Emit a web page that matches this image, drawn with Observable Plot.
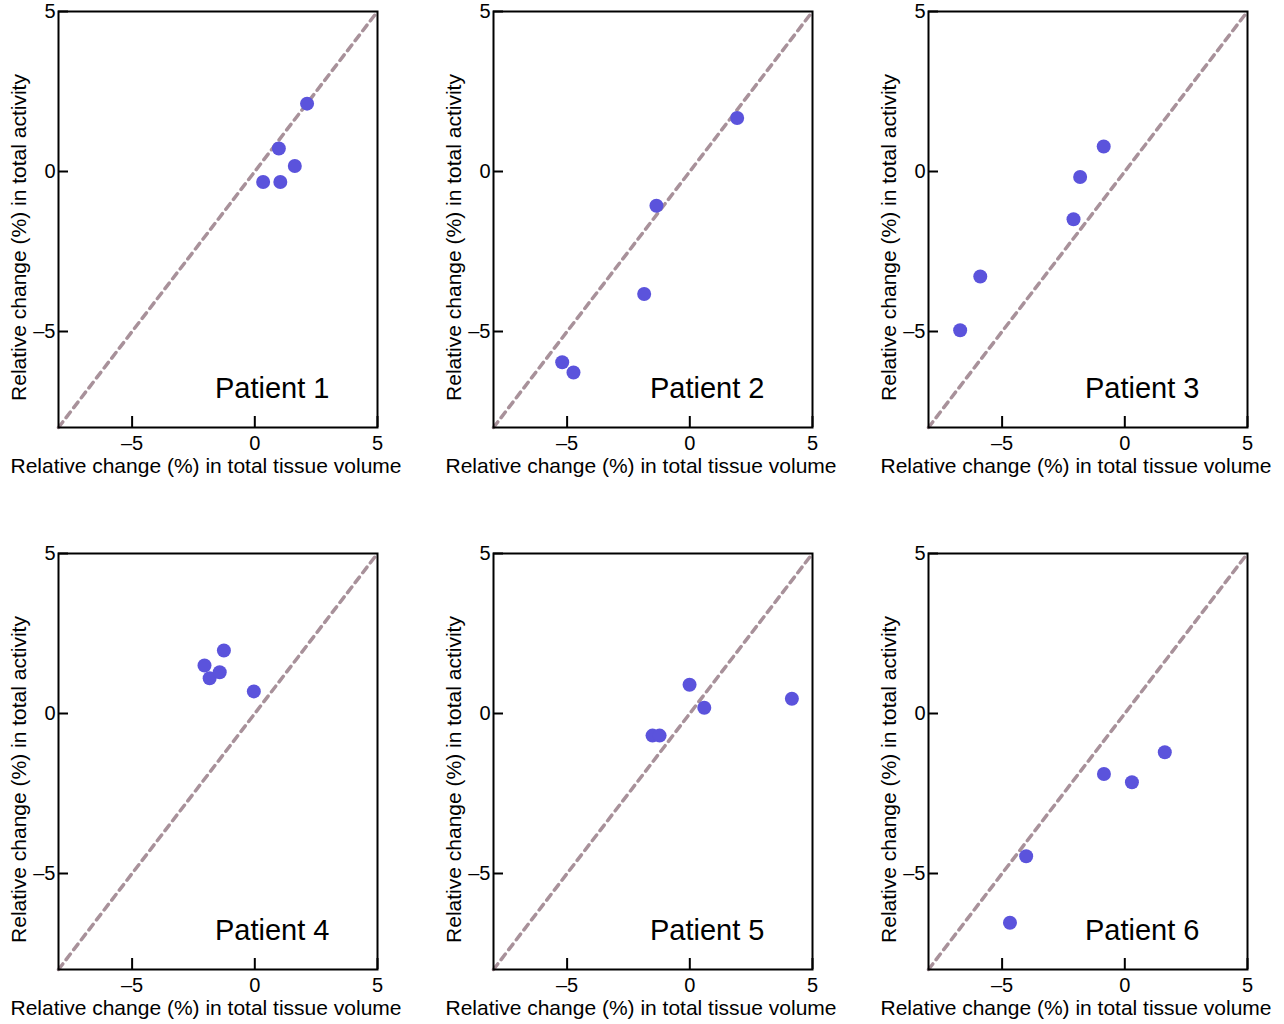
<!DOCTYPE html>
<html><head><meta charset="utf-8">
<script src="https://cdn.jsdelivr.net/npm/d3@7"></script>
<script src="https://cdn.jsdelivr.net/npm/@observablehq/plot@0.6"></script>
<style>
body{margin:0;background:#fff;overflow:hidden}
#wrap{position:relative;width:1284px;height:1024px;font-family:"Liberation Sans",Arial,sans-serif}
.panel{position:absolute}
</style></head><body><div id="wrap"></div>
<script>
// ---- data ----
const patients = ["Patient 1", "Patient 2", "Patient 3", "Patient 4", "Patient 5", "Patient 6"];
const volume1 = [2.13, 0.98, 1.63, 0.34, 1.04];
const activity1 = [2.12, 0.72, 0.17, -0.33, -0.33];
const volume2 = [1.93, -1.36, -1.86, -5.2, -4.74];
const activity2 = [1.67, -1.07, -3.83, -5.96, -6.28];
const volume3 = [-0.86, -1.82, -2.09, -5.89, -6.71];
const activity3 = [0.78, -0.17, -1.49, -3.28, -4.96];
const volume4 = [-1.26, -2.05, -1.84, -1.43, -0.04];
const activity4 = [1.97, 1.5, 1.1, 1.29, 0.69];
const volume5 = [-0.01, 0.59, 4.16, -1.52, -1.23];
const activity5 = [0.9, 0.18, 0.46, -0.69, -0.69];
const volume6 = [1.63, -0.85, 0.29, -4.02, -4.68];
const activity6 = [-1.21, -1.89, -2.15, -4.46, -6.54];
const axisDomain = [-8, 5];
const tickValues = [-5, 0, 5];
const tickLabels = ["\u20135", "0", "5"];
const xTitle = "Relative change (%) in total tissue volume";
const yTitle = "Relative change (%) in total activity";

const volumes = [volume1, volume2, volume3, volume4, volume5, volume6];
const activities = [activity1, activity2, activity3, activity4, activity5, activity6];

const font = '"Liberation Sans", Arial, sans-serif';
const dotColor = "#5b53dc";
const diagColor = "#a8919a";
const lefts = [0, 435, 870];
const tops = [0, 542];
const W = 410, H = 500, ML = 58, MR = 33, MT = 11, MB = 73;
const innerW = W - ML - MR, innerH = H - MT - MB;
const span = axisDomain[1] - axisDomain[0];
const xTickLen = 11 * span / innerH;  // inward tick length converted to data units
const yTickLen = 10 * span / innerW;
const fmt = d => tickLabels[tickValues.indexOf(d)];

const wrap = document.getElementById("wrap");
patients.forEach((name, k) => {
  const pts = volumes[k].map((v, i) => ({v, a: activities[k][i]}));
  const diag = axisDomain.map(d => ({d}));
  const chart = Plot.plot({
    width: W, height: H,
    marginLeft: ML, marginRight: MR, marginTop: MT, marginBottom: MB,
    style: {fontFamily: font, background: "white", color: "black", overflow: "visible"},
    x: {domain: axisDomain, axis: null},
    y: {domain: axisDomain, axis: null},
    marks: [
      Plot.line(diag, {x: "d", y: "d", stroke: diagColor, strokeWidth: 3.5, strokeDasharray: "7,5.5"}),
      Plot.dot(pts, {x: "v", y: "a", r: 7, fill: dotColor, stroke: "none"}),
      Plot.ruleX(tickValues, {x: d => d, y1: axisDomain[0], y2: axisDomain[0] + xTickLen, stroke: "#000", strokeWidth: 2}),
      Plot.ruleY(tickValues, {y: d => d, x1: axisDomain[0], x2: axisDomain[0] + yTickLen, stroke: "#000", strokeWidth: 2}),
      Plot.axisX({anchor: "bottom", ticks: tickValues, tickSize: 0, tickPadding: 8, tickFormat: fmt, fontSize: 20, label: null}),
      Plot.axisY({anchor: "left", ticks: tickValues, tickSize: 0, tickPadding: 3, tickFormat: fmt, fontSize: 20, label: null}),
      Plot.frame({stroke: "black", strokeWidth: 2}),
      Plot.text([name], {frameAnchor: "bottom-right", textAnchor: "end", lineAnchor: "top", dx: -48, dy: -50, fontSize: 29, fill: "black"}),
      Plot.text([xTitle], {frameAnchor: "bottom", textAnchor: "middle", lineAnchor: "top", dx: -12, dy: 31, fontSize: 21, fill: "black"}),
      Plot.text([yTitle], {frameAnchor: "left", textAnchor: "middle", lineAnchor: "middle", rotate: -90, dx: -39, dy: 18, fontSize: 21, fill: "black"})
    ]
  });
  const div = document.createElement("div");
  div.className = "panel";
  div.style.left = lefts[k % 3] + "px";
  div.style.top = tops[Math.floor(k / 3)] + "px";
  div.appendChild(chart);
  wrap.appendChild(div);
});
</script>
</body></html>
